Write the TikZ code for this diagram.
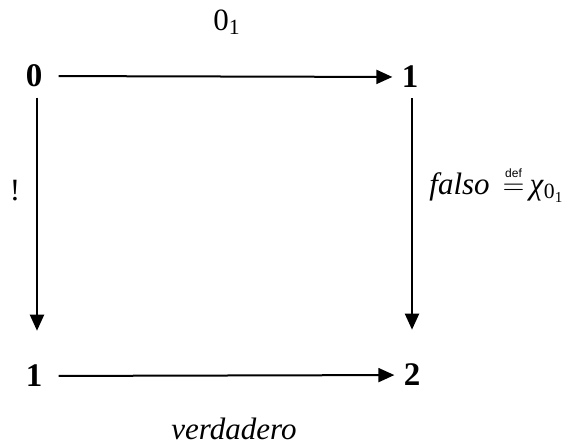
\documentclass[tikz,border=0pt]{standalone}
\usepackage{fontspec}
\setmainfont{Liberation Serif}[ItalicFont=Liberation Serif Italic,BoldFont=Liberation Serif Bold]
\setsansfont{Liberation Sans}
\usepackage{amsmath}
\usetikzlibrary{arrows.meta}

\tikzset{
	obj/.style={inner sep=0pt,font=\fontsize{16.5}{20}\selectfont\bfseries},
	lbl/.style={inner sep=0pt,font=\fontsize{15.5}{19}\selectfont},
	mor/.style={line width=1pt,-{Triangle[length=8pt,width=7pt]}}
}

\begin{document}
\begin{tikzpicture}[line cap=butt,line join=round,x=0.5pt,y=-0.5pt]
		\useasboundingbox (0,0) rectangle (576,445);
		% objetos
		\node[obj] (cero) at (34,76) {0};
		\node[obj] (uno) at (410,77) {1};
		\node[obj] (unob) at (34,376) {1};
		\node[obj] (dos) at (412,375) {2};
		% flechas
		\draw[mor,shorten <=8pt,shorten >=4.5pt] (cero) -- (uno);
		\draw[mor,shorten <=8pt,shorten >=4.5pt] (unob) -- (dos);
		\draw[mor,shorten <=5pt,shorten >=17pt] ([xshift=1.5pt]cero.south) -- ([xshift=1.5pt]unob.north);
		\draw[mor,shorten <=5pt,shorten >=17pt] ([xshift=1pt]uno.south) -- ([xshift=0pt]dos.north);
		% etiquetas
		\node[lbl] (cerouno) at (227,22) {0\textsubscript{1}};
		\node[lbl] (excl) at (15,191) {!};
		\node[lbl,anchor=west] (falso) at (429,184) {\textit{falso}\,
			$\mathrel{\overset{\raisebox{0.3pt}{\fontsize{6}{6}\selectfont\sffamily def}}{=}}$\,\textit{χ}\textsubscript{0\textsubscript{1}}};
		\node[lbl] (verdadero) at (234,429) {\textit{verdadero}};
\end{tikzpicture}
\end{document}
